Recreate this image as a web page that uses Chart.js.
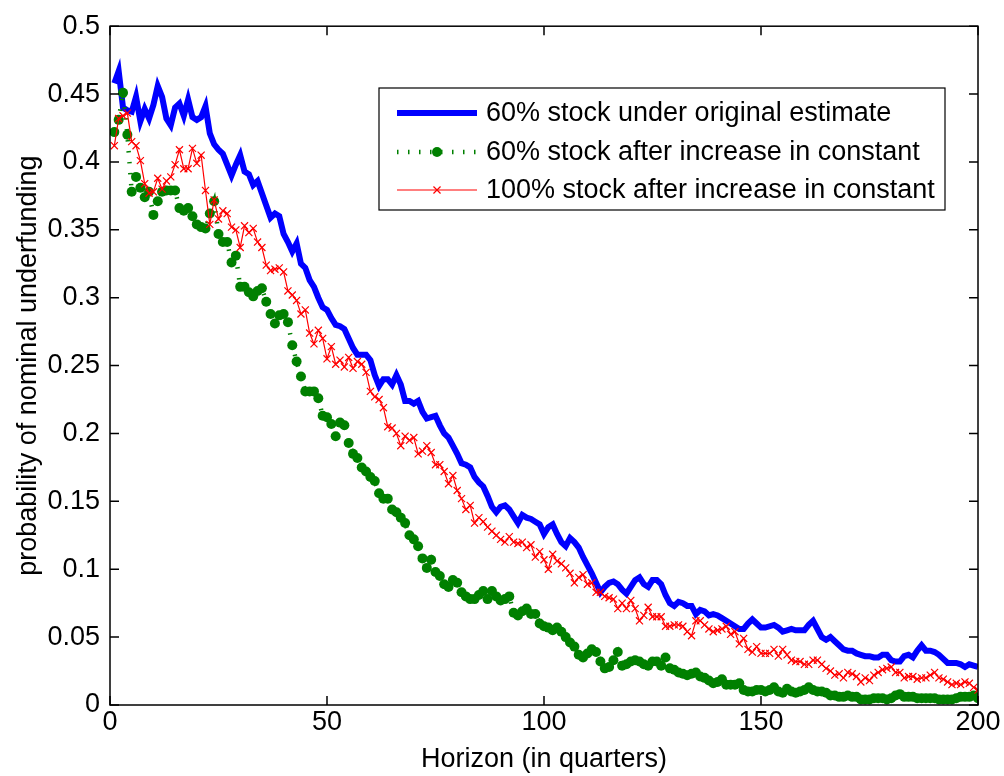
<!DOCTYPE html>
<html>
<head>
<meta charset="utf-8">
<script src="https://cdn.jsdelivr.net/npm/chart.js@4.4.1/dist/chart.umd.min.js"></script>
<style>
  html, body { margin: 0; padding: 0; background: #fff; }
  #wrap { width: 1004px; height: 776px; }
</style>
</head>
<body>
<div id="wrap"><canvas id="chart"></canvas></div>
<script>
// horizon, quarters 1..200
const quarters = Array.from({length: 200}, (_, i) => i + 1);
const xTicks = [0, 50, 100, 150, 200];
const yTicks = [0, 0.05, 0.1, 0.15, 0.2, 0.25, 0.3, 0.35, 0.4, 0.45, 0.5];

const seriesNames = [
  '60% stock under original estimate',
  '60% stock after increase in constant',
  '100% stock after increase in constant'
];

// probability of nominal underfunding
const stock60Original = [
  0.458,0.467,0.440,0.438,0.437,0.448,0.430,0.439,0.432,0.442,
  0.456,0.448,0.432,0.427,0.440,0.443,0.434,0.446,0.433,0.431,
  0.433,0.441,0.421,0.413,0.409,0.406,0.398,0.390,0.398,0.405,
  0.393,0.391,0.383,0.386,0.377,0.368,0.359,0.362,0.360,0.347,
  0.341,0.334,0.340,0.325,0.322,0.313,0.308,0.300,0.293,0.291,
  0.285,0.280,0.279,0.277,0.270,0.263,0.258,0.258,0.258,0.254,
  0.243,0.235,0.240,0.240,0.236,0.243,0.236,0.224,0.224,0.222,
  0.224,0.216,0.211,0.212,0.213,0.206,0.200,0.197,0.191,0.185,
  0.178,0.177,0.175,0.168,0.164,0.161,0.154,0.146,0.142,0.146,
  0.147,0.144,0.139,0.134,0.140,0.138,0.137,0.135,0.133,0.126,
  0.131,0.133,0.126,0.120,0.117,0.123,0.120,0.116,0.109,0.103,
  0.097,0.090,0.083,0.087,0.090,0.091,0.089,0.085,0.082,0.087,
  0.092,0.094,0.089,0.087,0.092,0.092,0.089,0.081,0.075,0.073,
  0.076,0.075,0.073,0.073,0.067,0.070,0.069,0.066,0.067,0.066,
  0.064,0.062,0.060,0.058,0.056,0.056,0.060,0.063,0.060,0.057,
  0.057,0.058,0.059,0.057,0.054,0.055,0.056,0.055,0.055,0.055,
  0.059,0.062,0.056,0.050,0.048,0.050,0.047,0.044,0.041,0.040,
  0.040,0.038,0.037,0.036,0.036,0.035,0.035,0.037,0.037,0.033,
  0.032,0.032,0.036,0.037,0.035,0.040,0.044,0.040,0.040,0.039,
  0.037,0.034,0.031,0.031,0.031,0.030,0.028,0.030,0.029,0.028
];

const stock60Increase = [
  0.422,0.431,0.451,0.420,0.378,0.389,0.381,0.374,0.378,0.361,
  0.371,0.378,0.379,0.379,0.379,0.366,0.364,0.366,0.360,0.354,
  0.352,0.351,0.362,0.371,0.347,0.341,0.341,0.326,0.331,0.308,
  0.308,0.304,0.301,0.305,0.307,0.297,0.288,0.281,0.287,0.288,
  0.282,0.265,0.253,0.242,0.231,0.231,0.231,0.226,0.213,0.212,
  0.207,0.198,0.208,0.206,0.193,0.185,0.182,0.175,0.172,0.168,
  0.165,0.156,0.152,0.152,0.144,0.142,0.138,0.134,0.125,0.122,
  0.117,0.108,0.101,0.107,0.098,0.095,0.089,0.087,0.092,0.090,
  0.083,0.080,0.078,0.078,0.081,0.084,0.078,0.084,0.080,0.077,
  0.078,0.080,0.068,0.066,0.069,0.071,0.067,0.067,0.060,0.058,
  0.057,0.055,0.057,0.054,0.050,0.046,0.043,0.037,0.035,0.038,
  0.041,0.039,0.032,0.027,0.028,0.033,0.039,0.029,0.030,0.032,
  0.033,0.032,0.030,0.029,0.032,0.032,0.029,0.035,0.027,0.026,
  0.024,0.023,0.022,0.023,0.024,0.021,0.020,0.018,0.016,0.017,
  0.019,0.015,0.015,0.015,0.016,0.011,0.010,0.010,0.011,0.011,
  0.010,0.011,0.013,0.010,0.009,0.012,0.010,0.009,0.010,0.011,
  0.013,0.011,0.010,0.010,0.009,0.007,0.007,0.006,0.006,0.007,
  0.006,0.006,0.004,0.004,0.004,0.005,0.005,0.005,0.004,0.005,
  0.007,0.008,0.006,0.006,0.006,0.005,0.005,0.005,0.005,0.005,
  0.004,0.004,0.004,0.004,0.005,0.006,0.006,0.006,0.007,0.005
];

const stock100Increase = [
  0.412,0.432,0.434,0.436,0.415,0.412,0.401,0.384,0.377,0.378,
  0.388,0.380,0.386,0.389,0.398,0.409,0.395,0.395,0.410,0.399,
  0.405,0.379,0.354,0.372,0.358,0.364,0.362,0.352,0.350,0.337,
  0.353,0.348,0.351,0.341,0.337,0.324,0.320,0.321,0.322,0.319,
  0.305,0.302,0.298,0.288,0.291,0.274,0.266,0.276,0.270,0.255,
  0.264,0.251,0.254,0.249,0.256,0.248,0.253,0.251,0.245,0.231,
  0.227,0.225,0.219,0.205,0.204,0.200,0.191,0.198,0.195,0.197,
  0.185,0.187,0.191,0.186,0.177,0.177,0.172,0.163,0.169,0.158,
  0.152,0.144,0.147,0.134,0.138,0.135,0.131,0.128,0.125,0.122,
  0.120,0.124,0.120,0.119,0.120,0.116,0.118,0.109,0.113,0.107,
  0.100,0.111,0.106,0.104,0.101,0.097,0.090,0.094,0.096,0.089,
  0.090,0.083,0.083,0.080,0.079,0.078,0.071,0.075,0.071,0.077,
  0.071,0.062,0.066,0.072,0.065,0.065,0.065,0.058,0.058,0.059,
  0.059,0.058,0.054,0.051,0.062,0.062,0.059,0.056,0.054,0.055,
  0.056,0.058,0.052,0.054,0.045,0.049,0.041,0.039,0.043,0.038,
  0.038,0.038,0.041,0.036,0.041,0.037,0.033,0.032,0.032,0.030,
  0.030,0.033,0.033,0.030,0.027,0.025,0.022,0.023,0.020,0.024,
  0.023,0.021,0.017,0.020,0.018,0.022,0.024,0.026,0.027,0.028,
  0.024,0.024,0.020,0.021,0.021,0.019,0.020,0.020,0.022,0.024,
  0.020,0.019,0.017,0.015,0.016,0.015,0.017,0.016,0.013,0.011
];

const FONT = '"Liberation Sans", Arial, Helvetica, sans-serif';
const FSIZE = 27;
Chart.defaults.font.family = FONT;
Chart.defaults.color = '#000';

// matlab style box with inward ticks
const axesBox = {
  id: 'axesBox',
  afterDatasetsDraw(chart) {
    const {ctx, chartArea: a, scales: {x, y}} = chart;
    const len = 9;
    ctx.save();
    ctx.strokeStyle = '#000';
    ctx.lineWidth = 1.5;
    ctx.beginPath();
    xTicks.forEach(v => {
      const px = x.getPixelForValue(v);
      ctx.moveTo(px, a.bottom); ctx.lineTo(px, a.bottom - len);
      ctx.moveTo(px, a.top); ctx.lineTo(px, a.top + len);
    });
    yTicks.forEach(v => {
      const py = y.getPixelForValue(v);
      ctx.moveTo(a.left, py); ctx.lineTo(a.left + len, py);
      ctx.moveTo(a.right, py); ctx.lineTo(a.right - len, py);
    });
    ctx.stroke();
    ctx.strokeRect(a.left, a.top, a.right - a.left, a.bottom - a.top);
    ctx.restore();
  }
};

// legend box drawn inside the axes, upper right
const boxLegend = {
  id: 'boxLegend',
  afterDraw(chart) {
    const ctx = chart.ctx;
    const bx = 379, by = 88, bw = 566, bh = 122;
    ctx.save();
    ctx.fillStyle = '#fff';
    ctx.fillRect(bx, by, bw, bh);
    ctx.strokeStyle = '#000';
    ctx.lineWidth = 1.2;
    ctx.strokeRect(bx, by, bw, bh);
    const rows = [113, 152, 190];
    const x0 = 397, x1 = 477, xm = 437;
    chart.data.datasets.forEach((ds, i) => {
      const yy = rows[i];
      ctx.save();
      ctx.strokeStyle = ds.borderColor;
      ctx.lineWidth = ds.borderWidth;
      ctx.setLineDash(ds.borderDash || []);
      ctx.beginPath();
      ctx.moveTo(x0, yy); ctx.lineTo(x1, yy);
      ctx.stroke();
      ctx.restore();
      if (ds.pointRadius > 0) {
        ctx.fillStyle = ds.pointBackgroundColor;
        ctx.strokeStyle = ds.pointBorderColor;
        ctx.lineWidth = ds.pointBorderWidth || 1;
        ctx.beginPath();
        if (ds.pointStyle === 'circle') {
          ctx.arc(xm, yy, ds.pointRadius, 0, Math.PI * 2);
          ctx.fill();
        } else {
          const r = ds.pointRadius * 0.707;
          ctx.moveTo(xm - r, yy - r); ctx.lineTo(xm + r, yy + r);
          ctx.moveTo(xm - r, yy + r); ctx.lineTo(xm + r, yy - r);
          ctx.stroke();
        }
      }
      ctx.fillStyle = '#000';
      ctx.font = FSIZE + 'px ' + FONT;
      ctx.textBaseline = 'middle';
      ctx.textAlign = 'left';
      ctx.fillText(seriesNames[i], 486, yy + 1);
    });
    ctx.restore();
  }
};

new Chart(document.getElementById('chart'), {
  type: 'line',
  data: {
    labels: quarters,
    datasets: [
      {
        label: seriesNames[0],
        data: stock60Original,
        borderColor: '#0000ff',
        borderWidth: 6,
        pointRadius: 0,
        order: 3
      },
      {
        label: seriesNames[1],
        data: stock60Increase,
        borderColor: '#008000',
        borderWidth: 4.5,
        borderDash: [1.5, 9.5],
        pointStyle: 'circle',
        pointRadius: 5,
        pointBorderWidth: 0,
        pointBackgroundColor: '#008000',
        pointBorderColor: '#008000',
        order: 2
      },
      {
        label: seriesNames[2],
        data: stock100Increase,
        borderColor: '#ff0000',
        borderWidth: 1.2,
        pointStyle: 'crossRot',
        pointRadius: 5,
        pointBorderWidth: 1.2,
        pointBackgroundColor: '#ff0000',
        pointBorderColor: '#ff0000',
        order: 1
      }
    ]
  },
  options: {
    responsive: true,
    maintainAspectRatio: false,
    animation: false,
    layout: { padding: { left: 0, top: 20, right: 26, bottom: 0 } },
    elements: { line: { tension: 0 } },
    plugins: {
      legend: { display: false },
      tooltip: { enabled: false }
    },
    scales: {
      x: {
        type: 'linear',
        min: 0,
        max: 200,
        afterBuildTicks: s => { s.ticks = xTicks.map(v => ({value: v})); },
        afterFit: s => { s.height = 71; },
        grid: { display: false, drawTicks: false },
        border: { display: false },
        ticks: { font: { size: FSIZE }, padding: 1, maxRotation: 0, callback: v => String(v) },
        title: { display: true, text: 'Horizon (in quarters)', font: { size: FSIZE }, padding: { top: 12, bottom: 0 } }
      },
      y: {
        type: 'linear',
        min: 0,
        max: 0.5,
        afterBuildTicks: s => { s.ticks = yTicks.map(v => ({value: v})); },
        afterFit: s => { s.width = 110; },
        grid: { display: false, drawTicks: false },
        border: { display: false },
        ticks: { font: { size: FSIZE }, padding: 10, callback: v => String(v) },
        title: { display: true, text: 'probability of nominal underfunding', font: { size: FSIZE }, padding: { top: 12, bottom: 0 } }
      }
    }
  },
  plugins: [axesBox, boxLegend]
});
</script>
</body>
</html>
